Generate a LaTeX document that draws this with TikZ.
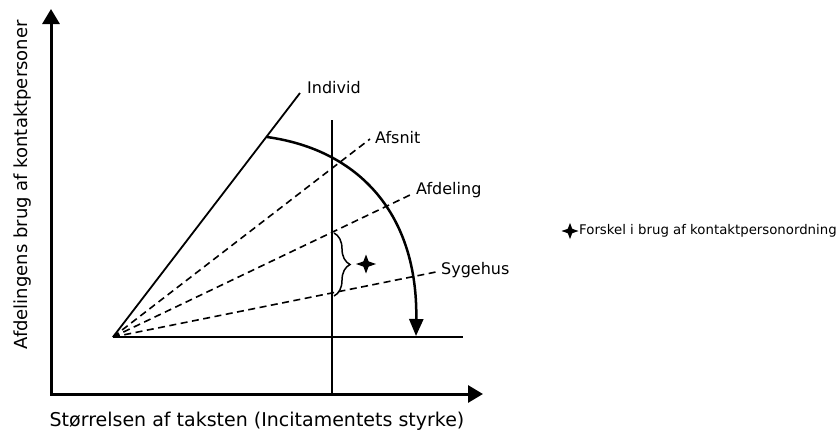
\documentclass[tikz,border=0pt]{standalone}
\usepackage{fontspec}
\setmainfont{DejaVu Sans}
\usetikzlibrary{arrows.meta,decorations.pathreplacing}
\begin{document}
\begin{tikzpicture}[x=1pt,y=-1pt,
  axisline/.style={line width=3pt,line join=miter,{Triangle[width=17pt,length=15pt]}-{Triangle[width=17pt,length=15pt]}},
  plainline/.style={line width=1.8pt},
  dashline/.style={line width=1.6pt,dash pattern=on 7pt off 4.5pt},
  arcline/.style={line width=2.5pt,-{Triangle[width=14pt,length=17pt]}},
  bracestyle/.style={line width=1.5pt,decorate,decoration={brace,amplitude=16pt}},
  lbl/.style={inner sep=0pt,font=\fontsize{16}{18}\selectfont},
  axlbl/.style={inner sep=0pt,font=\fontsize{19}{21}\selectfont},
  leglbl/.style={inner sep=0pt,font=\fontsize{13.3}{15}\selectfont},
  fstar/.pic={\fill (0,-9.5) -- (2.6,-2.6) -- (10,0) -- (2.6,2.6) -- (0,9.5) -- (-2.6,2.6) -- (-10,0) -- (-2.6,-2.6) -- cycle;}
]
\useasboundingbox (0,0) rectangle (838,432);
% axes
\coordinate (ax0) at (51,394);
\coordinate (axy) at (51,9);
\coordinate (axx) at (483,394);
\draw[axisline] (axy) -- (ax0) -- (axx);
% origin and lines
\coordinate (O) at (113,337);
\coordinate (H) at (463,337);
\coordinate (Vt) at (332,120);
\coordinate (Vb) at (332,394);
\coordinate (Ie) at (300,93);
\coordinate (Ae) at (370,139);
\coordinate (De) at (410,195);
\coordinate (Se) at (436,272);
\draw[plainline] (O) -- (H);
\draw[plainline] (Vt) -- (Vb);
\draw[plainline] (O) -- (Ie);
\draw[dashline] (O) -- (Ae);
\draw[dashline] (O) -- (De);
\draw[dashline] (O) -- (Se);
% labels
\node[lbl,anchor=west] (lI) at (307,88) {Individ};
\node[lbl,anchor=west] (lA) at (375,138) {Afsnit};
\node[lbl,anchor=west] (lD) at (416,190) {Afdeling};
\node[lbl,anchor=west] (lS) at (441,270) {Sygehus};
% arc
\coordinate (arcS) at (267,137);
\coordinate (arcE) at (416,336);
\draw[arcline] (arcS) .. controls (360,150) and (418,215) .. (arcE);
% brace and star
\coordinate (bT) at (334,233);
\coordinate (bB) at (334,296);
\draw[bracestyle] (bT) -- (bB);
\pic (st1) at (366,264) {fstar};
% legend
\pic[scale=0.85] (st2) at (570,231) {fstar};
\node[leglbl,anchor=west] (leg) at (579,231) {Forskel i brug af kontaktpersonordning};
% axis labels
\node[axlbl,rotate=90,font=\fontsize{18}{20}\selectfont] (ylab) at (23,185) {Afdelingens brug af kontaktpersoner};
\node[axlbl] (xlab) at (257,421) {Størrelsen af taksten (Incitamentets styrke)};
\end{tikzpicture}
\end{document}
